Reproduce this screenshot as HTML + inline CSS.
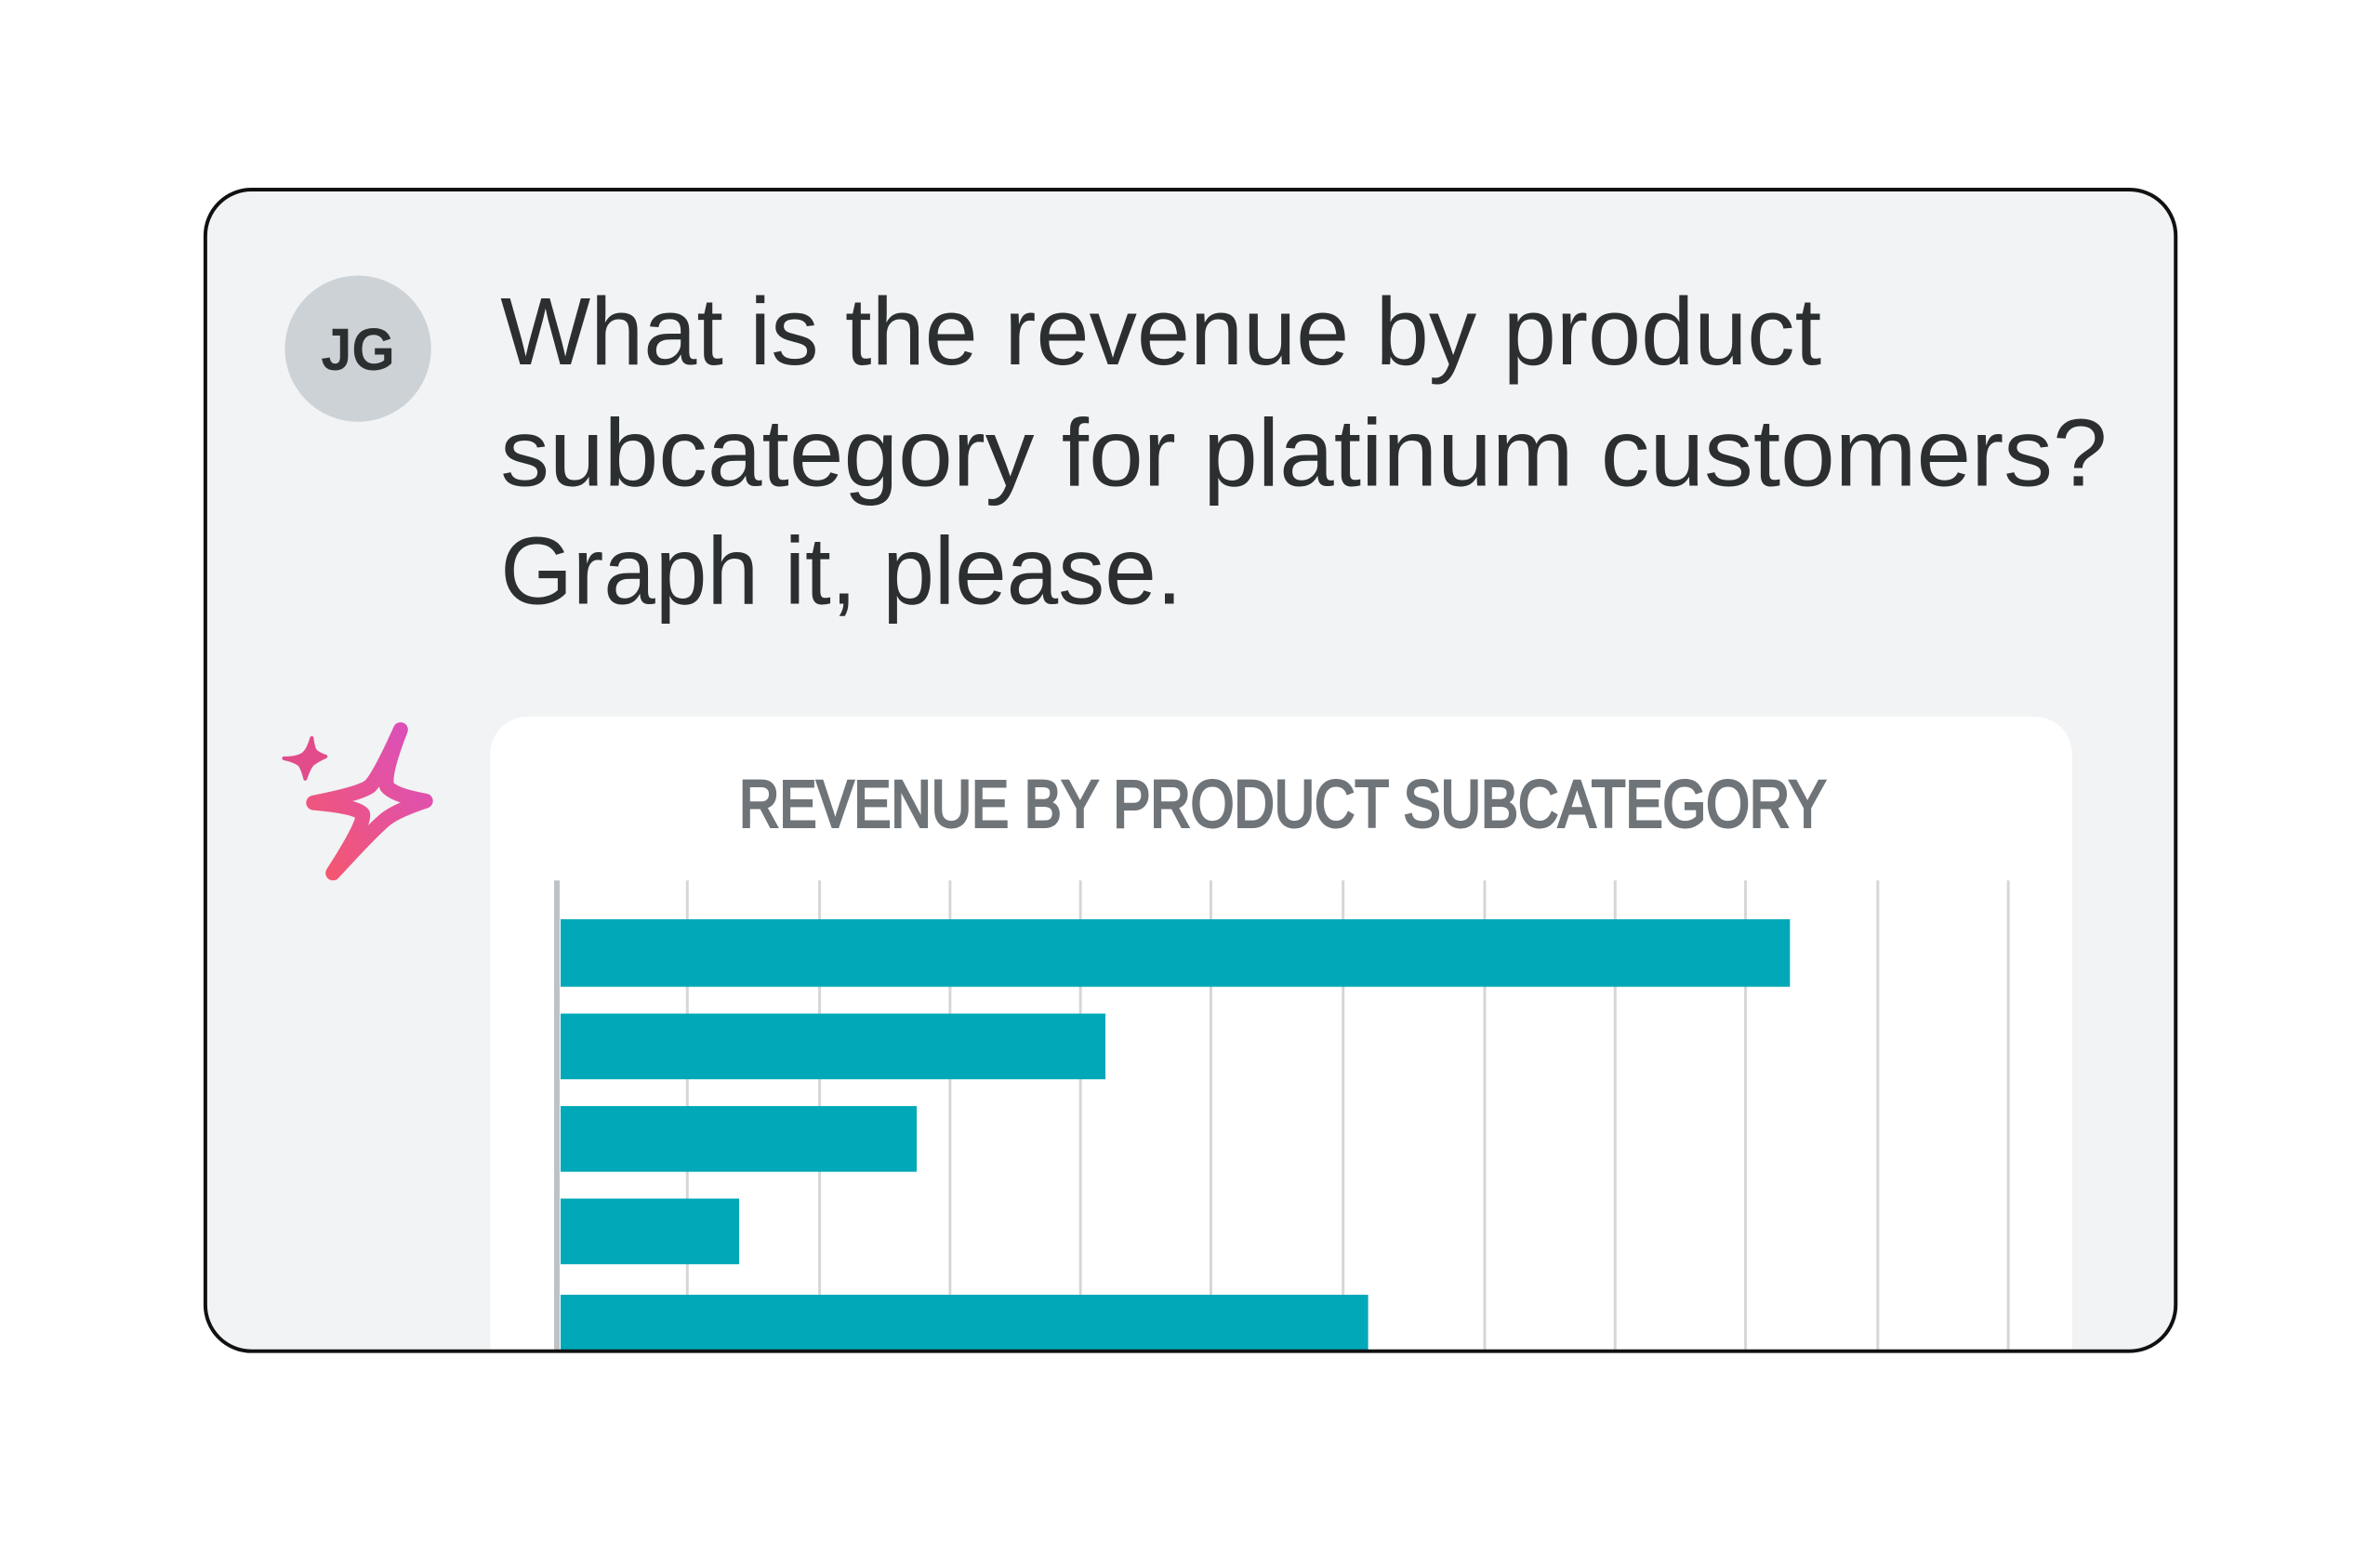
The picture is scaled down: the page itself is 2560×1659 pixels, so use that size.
<!DOCTYPE html>
<html><head><meta charset="utf-8"><style>
html,body{margin:0;padding:0;background:#fff;width:2560px;height:1659px;overflow:hidden}
</style></head><body>
<svg width="2560" height="1659" viewBox="0 0 2560 1659" xmlns="http://www.w3.org/2000/svg">
<defs>
<clipPath id="card"><rect x="222" y="205" width="2130" height="1256" rx="50"/></clipPath>
<linearGradient id="g" x1="0" y1="1" x2="1" y2="0"><stop offset="0" stop-color="#f5576c"/><stop offset="1" stop-color="#d94fc0"/></linearGradient>
</defs>
<g transform="scale(0.995)">
<rect x="222" y="205" width="2130" height="1256" rx="50" fill="#f1f3f4"/>
<g clip-path="url(#card)">
<rect x="530" y="775" width="1710" height="800" rx="40" fill="#fff"/>
<g stroke="#d4d6d8" stroke-width="3">
<line x1="743" y1="952" x2="743" y2="1470"/><line x1="886" y1="952" x2="886" y2="1470"/>
<line x1="1027" y1="952" x2="1027" y2="1470"/><line x1="1168" y1="952" x2="1168" y2="1470"/>
<line x1="1309" y1="952" x2="1309" y2="1470"/><line x1="1452" y1="952" x2="1452" y2="1470"/>
<line x1="1605" y1="952" x2="1605" y2="1470"/><line x1="1746" y1="952" x2="1746" y2="1470"/>
<line x1="1887" y1="952" x2="1887" y2="1470"/><line x1="2030" y1="952" x2="2030" y2="1470"/>
<line x1="2171" y1="952" x2="2171" y2="1470"/>
</g>
<line x1="602" y1="952" x2="602" y2="1470" stroke="#bfc2c5" stroke-width="6"/>
<g fill="#00a8b8">
<rect x="606" y="994" width="1329" height="73"/>
<rect x="606" y="1096" width="589" height="71"/>
<rect x="606" y="1196" width="385" height="71"/>
<rect x="606" y="1296" width="193" height="71"/>
<rect x="606" y="1400" width="873" height="80"/>
</g>
</g>
<rect x="222" y="205" width="2130" height="1256" rx="50" fill="none" stroke="#111" stroke-width="4"/>
<circle cx="387" cy="377" r="79" fill="#cdd2d6"/>
<text x="387" y="400" text-anchor="middle" font-family="Liberation Sans, sans-serif" font-size="64" font-weight="bold" fill="#2b2f30" textLength="80" lengthAdjust="spacingAndGlyphs">JG</text>
<g font-family="Liberation Sans, sans-serif" font-size="104" fill="#2b2f30">
<text x="541" y="394" textLength="1428" lengthAdjust="spacingAndGlyphs">What is the revenue by product</text>
<text x="541" y="525" textLength="1737" lengthAdjust="spacingAndGlyphs">subcategory for platinum customers?</text>
<text x="541" y="653" textLength="737" lengthAdjust="spacingAndGlyphs">Graph it, please.</text>
</g>
<text x="799" y="894" font-family="Liberation Sans, sans-serif" font-size="72" fill="#6f7479" stroke="#6f7479" stroke-width="3" textLength="1175" lengthAdjust="spacingAndGlyphs">REVENUE BY PRODUCT SUBCATEGORY</text>
<g fill="none" stroke="url(#g)" stroke-width="16" stroke-linejoin="round">
<path d="M433 789 Q410 840 400 850 Q390 858 339 868 Q385 872 392 880 Q395 890 360 944 Q405 895 418 885 Q430 876 460 866 Q425 860 418 850 Q415 835 433 789 Z"/>
</g>
<path d="M337 798 Q333 812 327 816 Q320 820 307 820 Q321 823 325 828 Q328 834 330 842 Q334 830 338 826 Q343 822 352 818 Q343 815 340 811 Q338 806 337 798 Z" fill="#e24c8a" stroke="#e24c8a" stroke-width="4" stroke-linejoin="round"/>
</g>
</svg>
</body></html>
